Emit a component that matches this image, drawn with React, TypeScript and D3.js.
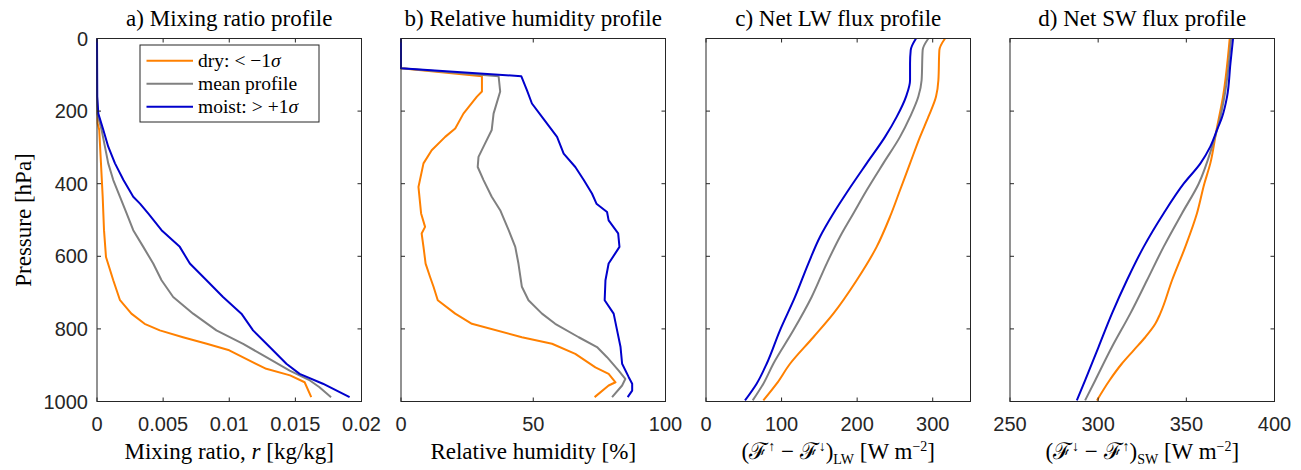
import React from "react";
import * as d3 from "d3";

// ---------- data (pressure [hPa], value) ----------
const pressureTicks = [0, 200, 400, 600, 800, 1000];

const mixDry: [number, number][] = [[0,0],[160,0],[234,0.00005],[252,0.00017],[344,0.0003],[436,0.00043],[528,0.00053],[602,0.00068],[666,0.00123],[721,0.00174],[758,0.0026],[786,0.0036],[804,0.00475],[823,0.0065],[841,0.0083],[859,0.01],[887,0.0115],[910,0.0128],[928,0.0146],[947,0.0157],[988,0.0162]];
const mixMean: [number, number][] = [[0,0],[180,0],[207,0.00003],[252,0.00035],[298,0.0006],[344,0.00085],[390,0.00123],[436,0.00174],[482,0.00224],[528,0.00274],[574,0.0035],[620,0.00425],[666,0.00488],[712,0.00576],[758,0.00727],[804,0.00903],[841,0.01105],[878,0.0128],[915,0.01457],[942,0.0161],[960,0.0168],[988,0.0177]];
const mixMoist: [number, number][] = [[0,0],[160,0.00002],[207,0.0001],[252,0.00048],[298,0.00085],[344,0.00136],[390,0.002],[436,0.00274],[455,0.00325],[482,0.00387],[528,0.00488],[574,0.00626],[620,0.00702],[666,0.00828],[712,0.00953],[758,0.01092],[804,0.0118],[850,0.01306],[896,0.01432],[924,0.01532],[951,0.01708],[988,0.0191]];

const rhDry: [number, number][] = [[0,0],[82,0],[104,30.6],[146,30.6],[160,28.7],[207,23.6],[248,20.5],[271,16.7],[308,11.6],[344,8.5],[409,6.6],[482,7.6],[519,9.1],[537,7.8],[574,8.5],[620,9.3],[657,11],[684,12.3],[721,13.9],[758,20.5],[786,26.8],[823,45.7],[841,57.1],[869,65.9],[906,73.5],[924,78.5],[947,81.1],[956,78.5],[988,73.2]];
const rhMean: [number, number][] = [[0,0],[82,0],[104,36.9],[146,37.5],[207,35],[252,34.3],[289,31.8],[326,29.3],[354,29],[390,31.2],[436,34.3],[473,37.5],[528,40.7],[574,43.2],[620,44.4],[684,45.7],[721,48.2],[758,53.3],[786,58.3],[823,67.2],[850,74.1],[878,77.9],[915,82.3],[938,84.8],[956,83.6],[988,79.8]];
const rhMoist: [number, number][] = [[0,0],[82,0],[104,45.5],[142,47.6],[179,49.5],[216,53.3],[271,59],[317,61.5],[354,65.9],[390,69.1],[427,72.2],[455,73.9],[478,77.9],[501,78.5],[537,82.1],[574,82.6],[620,78.5],[666,77.3],[721,77],[758,80.4],[804,81.7],[850,83],[896,83.6],[933,86.1],[951,87.4],[970,87.4],[988,85.7]];

const lwDry: [number, number][] = [[0,316.3],[32,308.8],[115,307.5],[160,304.4],[216,294.2],[271,283.2],[344,270],[418,256.7],[491,243.5],[574,225.8],[666,199.4],[758,168.5],[823,142],[896,111.2],[951,93.5],[997,75.9]];
const lwMean: [number, number][] = [[0,294.2],[32,286.7],[115,285.3],[160,281],[216,270],[271,256.7],[344,234.6],[418,212.6],[482,195],[546,177.3],[620,159.7],[712,139.8],[804,115.6],[896,89.1],[951,75.9],[997,61.8]];
const lwMoist: [number, number][] = [[0,277.9],[32,270.9],[69,270],[115,270],[160,264.7],[216,252.3],[271,236.9],[344,212.6],[418,188.3],[482,168.5],[546,150.9],[620,135.4],[712,117.8],[804,97.9],[896,80.3],[951,67],[997,51.6]];

const swDry: [number, number][] = [[0,374.6],[160,370.8],[252,367.1],[344,363.6],[400,360.2],[482,356],[574,349.4],[666,341.9],[758,335.2],[786,332.4],[823,326.7],[859,320.1],[896,313.4],[942,306.4],[997,299.3]];
const swMean: [number, number][] = [[0,375.4],[160,371.6],[234,368.4],[298,364.6],[400,357],[482,347.5],[574,337.1],[666,327.7],[758,318.2],[850,307.8],[942,298.3],[997,292.6]];
const swMoist: [number, number][] = [[0,376.5],[69,375],[160,373.1],[216,370.3],[252,367.4],[298,363.6],[344,358],[400,348.5],[482,337.1],[574,325.8],[666,316.3],[758,307.8],[850,300.2],[942,292.6],[997,287.9]];

const seriesColors = { dry: "#FF8000", mean: "#808080", moist: "#0000CC" };
const legendLabels = ["dry:", "mean profile", "moist:"];

const titles = ["a) Mixing ratio profile", "b) Relative humidity profile", "c) Net LW flux profile", "d) Net SW flux profile"];
const mixTicks = [0, 0.005, 0.01, 0.015, 0.02];
const mixTickLabels = ["0", "0.005", "0.01", "0.015", "0.02"];
const rhTicks = [0, 50, 100];
const lwTicks = [0, 100, 200, 300];
const swTicks = [250, 300, 350, 400];

// ---------- layout ----------
const W = 1301, H = 470;
const TOP = 38.5, BOTTOM = 401.5, PW = 264.5;
const LEFTS = [97, 401, 706, 1010];
const SERIF = "Liberation Serif";
const SANS = "Liberation Sans, Arial, sans-serif";
const AXC = "#262626";
const LABEL_FS = 23;

const panels = [
  { domain: [0, 0.02], ticks: mixTicks, labels: mixTickLabels, data: [mixDry, mixMean, mixMoist], smooth: false },
  { domain: [0, 100], ticks: rhTicks, labels: rhTicks.map(String), data: [rhDry, rhMean, rhMoist], smooth: false },
  { domain: [0, 350], ticks: lwTicks, labels: lwTicks.map(String), data: [lwDry, lwMean, lwMoist], smooth: true },
  { domain: [250, 400], ticks: swTicks, labels: swTicks.map(String), data: [swDry, swMean, swMoist], smooth: true },
];

function XLabel({ i }: { i: number }) {
  const s = 14;
  if (i === 0) return (<>Mixing ratio, <tspan fontStyle="italic">r</tspan> [kg/kg]</>);
  if (i === 1) return (<>Relative humidity [%]</>);
  const a1 = i === 2 ? "↑" : "↓";
  const a2 = i === 2 ? "↓" : "↑";
  const sub = i === 2 ? "LW" : "SW";
  return (
    <>
      (ℱ<tspan dy={-8} fontSize={s}>{a1}</tspan>
      <tspan dy={8}> − ℱ</tspan>
      <tspan dy={-8} fontSize={s}>{a2}</tspan>
      <tspan dy={8}>)</tspan>
      <tspan dy={5} fontSize={s}>{sub}</tspan>
      <tspan dy={-5}> [W m</tspan>
      <tspan dy={-8} fontSize={s}>−2</tspan>
      <tspan dy={8}>]</tspan>
    </>
  );
}

export default function App() {
  const y = d3.scaleLinear().domain([0, 1000]).range([TOP, BOTTOM]);
  const colors = [seriesColors.dry, seriesColors.mean, seriesColors.moist];
  const tl = 4;
  return (
    <svg width={W} height={H} style={{ position: "absolute", left: 0, top: 0, display: "block", background: "#fff" }}>
      <rect width={W} height={H} fill="#fff" />
      {panels.map((pn, i) => {
        const x0 = LEFTS[i];
        const x = d3.scaleLinear().domain(pn.domain).range([x0, x0 + PW]);
        const line = d3.line<[number, number]>()
          .x((d) => x(d[1]))
          .y((d) => y(d[0]))
          .curve(pn.smooth ? d3.curveMonotoneY : d3.curveLinear);
        return (
          <g key={i}>
            {pn.data.map((ser, k) => (
              <path key={k} d={line(ser) || ""} fill="none" stroke={colors[k]} strokeWidth={2} strokeLinejoin="round" />
            ))}
            <rect x={x0} y={TOP} width={PW} height={BOTTOM - TOP} fill="none" stroke={AXC} strokeWidth={1} />
            {pn.ticks.map((t, j) => (
              <g key={j}>
                <line x1={x(t)} x2={x(t)} y1={BOTTOM} y2={BOTTOM - tl} stroke={AXC} />
                <line x1={x(t)} x2={x(t)} y1={TOP} y2={TOP + tl} stroke={AXC} />
                <text x={x(t)} y={431} textAnchor="middle" fontFamily={SANS} fontSize={20} fill={AXC}>{pn.labels[j]}</text>
              </g>
            ))}
            {pressureTicks.map((p, j) => (
              <g key={j}>
                <line x1={x0} x2={x0 + tl} y1={y(p)} y2={y(p)} stroke={AXC} />
                <line x1={x0 + PW} x2={x0 + PW - tl} y1={y(p)} y2={y(p)} stroke={AXC} />
                {i === 0 && (
                  <text x={88} y={y(p) + 7} textAnchor="end" fontFamily={SANS} fontSize={20} fill={AXC}>{p}</text>
                )}
              </g>
            ))}
            <text x={x0 + PW / 2} y={26} textAnchor="middle" style={{ fontFamily: SERIF }} fontSize={LABEL_FS} fill="#000">{titles[i]}</text>
            <text x={x0 + PW / 2} y={459} textAnchor="middle" style={{ fontFamily: SERIF }} fontSize={LABEL_FS} fill="#000"><XLabel i={i} /></text>
          </g>
        );
      })}
      <text transform={`translate(31,${(TOP + BOTTOM) / 2}) rotate(-90)`} textAnchor="middle" style={{ fontFamily: SERIF }} fontSize={LABEL_FS} fill="#000">Pressure [hPa]</text>
      {/* legend */}
      <g>
        <rect x={140} y={45} width={179} height={77} fill="#fff" stroke={AXC} strokeWidth={1} />
        {colors.map((c, k) => {
          const ly = 60.7 + k * 23;
          return (
            <g key={k}>
              <line x1={146.5} x2={193} y1={ly} y2={ly} stroke={c} strokeWidth={2} />
              <text x={198} y={ly + 6} style={{ fontFamily: SERIF }} fontSize={19.5} fill="#000">
                {legendLabels[k]}
                {k === 0 && (<tspan dx={5}>&lt;  −1<tspan fontStyle="italic">σ</tspan></tspan>)}
                {k === 2 && (<tspan dx={5}>&gt;  +1<tspan fontStyle="italic">σ</tspan></tspan>)}
              </text>
            </g>
          );
        })}
      </g>
    </svg>
  );
}
